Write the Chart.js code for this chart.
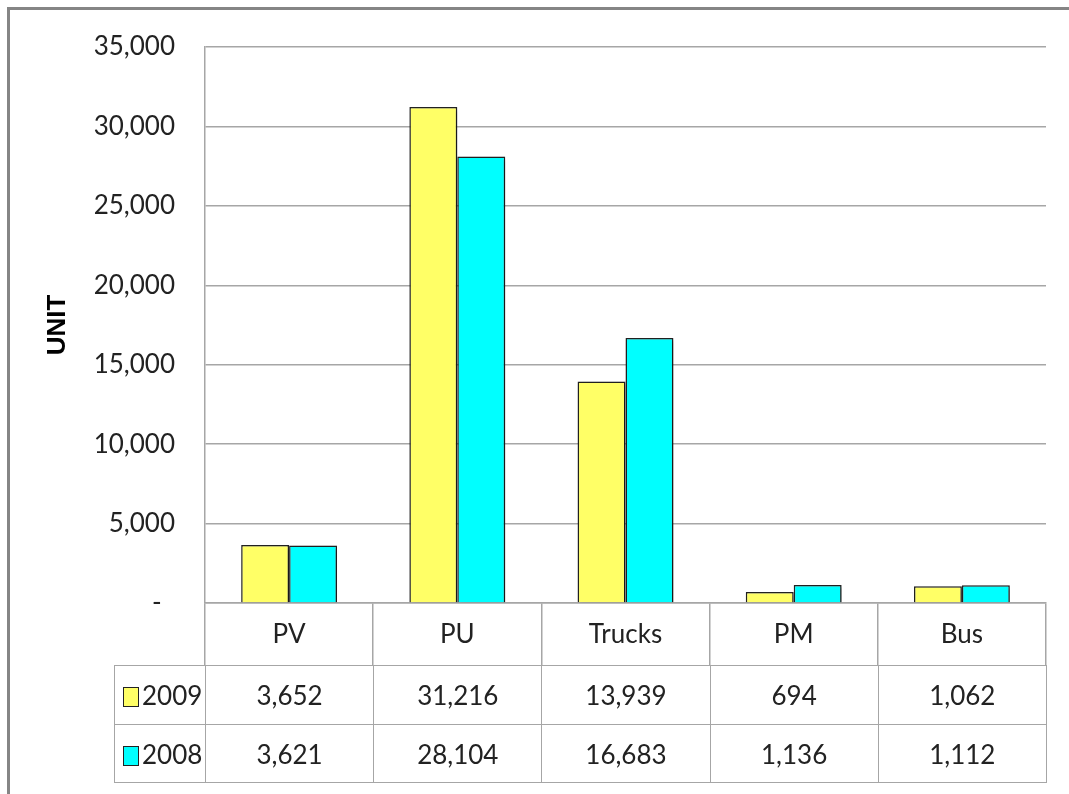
<!DOCTYPE html>
<html><head><meta charset="utf-8">
<script src="https://cdn.jsdelivr.net/npm/chart.js@4/dist/chart.umd.min.js"></script>
<style>
html,body{margin:0;padding:0;background:#fff;}
#wrap{position:relative;width:1069px;height:794px;overflow:hidden;background:#fff;}
#frame{position:absolute;left:7px;top:7px;width:1200px;height:900px;border-top:3px solid #858585;border-left:3px solid #858585;}
#c{position:absolute;left:0;top:0;}
#tbl{position:absolute;border-collapse:collapse;table-layout:fixed;font-family:'Liberation Sans Narrow',Lato,sans-serif;font-size:26px;color:#222;}
#tbl td{border:1.5px solid #a6a6a6;text-align:center;padding:0;white-space:nowrap;overflow:hidden;}
#tbl td.lg{text-align:left;padding-left:8px;}
.sw{display:inline-block;width:14px;height:18px;border:1.5px solid #222;vertical-align:-2px;margin-right:3px;}
</style>
</head><body>
<div id="wrap">
<div id="frame"></div>
<canvas id="c" width="1069" height="794"></canvas>
<table id="tbl"></table>
</div>
<script>
const categories = ['PV', 'PU', 'Trucks', 'PM', 'Bus'];
const seriesNames = ['2009', '2008'];
const values2009 = [3652, 31216, 13939, 694, 1062];
const values2008 = [3621, 28104, 16683, 1136, 1112];
const seriesColors = ['#FFFF66', '#00FFFF'];
const yMax = 35000;
const yStep = 5000;
const yTitle = 'UNIT';

const FONT = "'Liberation Sans Narrow', Lato, sans-serif";
const fmt = v => v.toLocaleString('en-US');

const shadowPlugin = {
  id: 'barShadow',
  beforeDatasetsDraw(c) {
    const ctx = c.ctx; ctx.save();
    ctx.shadowColor = 'rgba(0,0,0,0.35)'; ctx.shadowBlur = 4;
    ctx.shadowOffsetX = 2; ctx.shadowOffsetY = 2;
  },
  afterDatasetsDraw(c) { c.ctx.restore(); }
};

const chart = new Chart(document.getElementById('c'), {
  type: 'bar',
  data: {
    labels: categories,
    datasets: [
      { label: seriesNames[0], data: values2009, backgroundColor: seriesColors[0], borderColor: '#222', borderWidth: 1.5 },
      { label: seriesNames[1], data: values2008, backgroundColor: seriesColors[1], borderColor: '#222', borderWidth: 1.5 }
    ]
  },
  options: {
    responsive: false,
    animation: false,
    devicePixelRatio: 1,
    layout: { padding: { left: 38, top: 47, right: 23, bottom: 129 } },
    datasets: { bar: { categoryPercentage: 0.57, barPercentage: 1.0 } },
    plugins: { legend: { display: false }, tooltip: { enabled: false } },
    scales: {
      x: {
        grid: { offset: true, drawOnChartArea: false, tickLength: 62, color: '#a6a6a6', lineWidth: 1.5 },
        border: { display: true, color: '#a6a6a6', width: 1.5 },
        ticks: { padding: -46, color: '#222', font: { family: FONT, size: 26 } },
        afterFit(s) { s.height = 62; }
      },
      y: {
        min: 0, max: yMax,
        grid: { color: '#a6a6a6', lineWidth: 1.5, drawTicks: false },
        border: { display: true, color: '#a6a6a6', width: 1.5 },
        ticks: { stepSize: yStep, padding: 30, color: '#222', font: { family: FONT, size: 26 },
          callback: v => v === 0 ? '-  ' : fmt(v) },
        title: { display: true, text: yTitle, color: '#000', padding: { top: 4, bottom: 0 },
          font: { family: "'Liberation Sans', Arial, sans-serif", size: 26, weight: 'bold' } },
        afterFit(s) { s.width = 205 - 38; }
      }
    }
  },
  plugins: [shadowPlugin]
});

// data table below the chart, aligned with the category scale
(function buildTable() {
  const xs = chart.scales.x;
  const n = categories.length;
  const cw = (xs.right - xs.left) / n;
  const legendW = 91;
  const tbl = document.getElementById('tbl');
  tbl.style.left = (xs.left - legendW) + 'px';
  tbl.style.top = (chart.chartArea.bottom + 62) + 'px';
  tbl.style.width = (xs.right - xs.left + legendW) + 'px';
  const cg = document.createElement('colgroup');
  const c0 = document.createElement('col'); c0.style.width = legendW + 'px'; cg.appendChild(c0);
  for (let i = 0; i < n; i++) { const c = document.createElement('col'); c.style.width = cw + 'px'; cg.appendChild(c); }
  tbl.appendChild(cg);
  const rows = [values2009, values2008];
  const heights = [59, 58];
  rows.forEach((vals, r) => {
    const tr = document.createElement('tr');
    tr.style.height = heights[r] + 'px';
    const td0 = document.createElement('td'); td0.className = 'lg';
    const sw = document.createElement('span'); sw.className = 'sw'; sw.style.background = seriesColors[r];
    td0.appendChild(sw); td0.appendChild(document.createTextNode(seriesNames[r]));
    tr.appendChild(td0);
    vals.forEach(v => { const td = document.createElement('td'); td.textContent = fmt(v); tr.appendChild(td); });
    tbl.appendChild(tr);
  });
})();
</script>
</body></html>
